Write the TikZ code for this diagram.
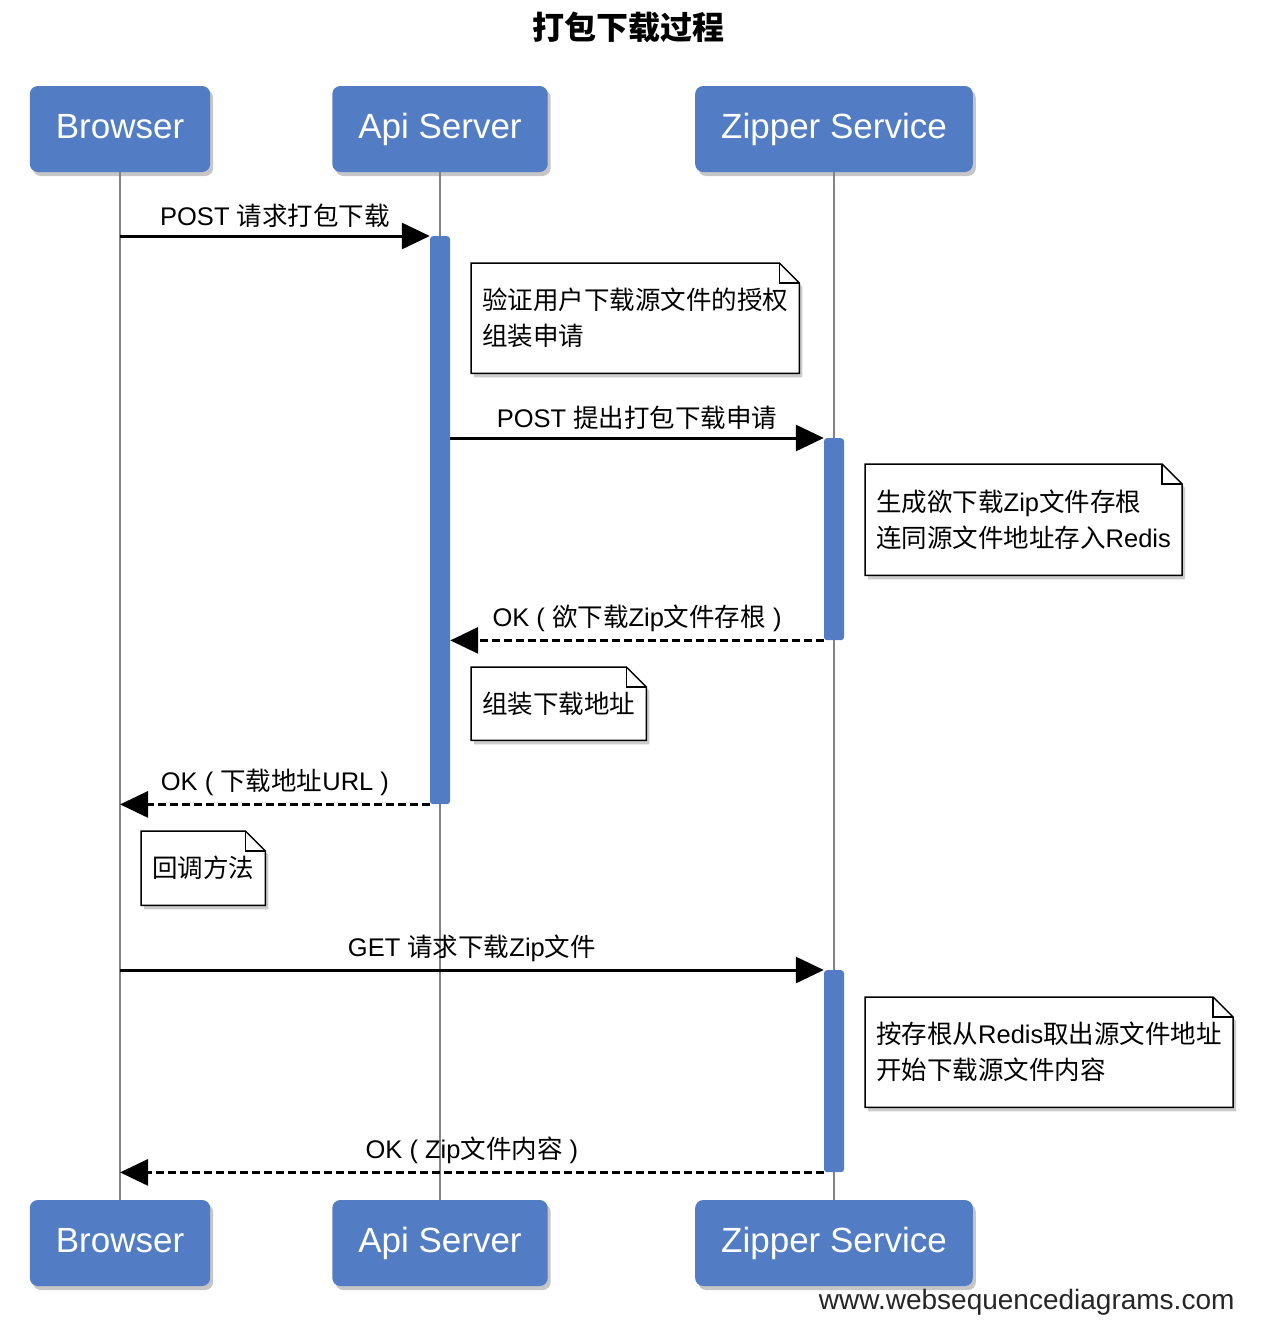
\documentclass[tikz,border=0pt]{standalone}
\usepackage{fontspec}
\setmainfont{Liberation Sans}
\newfontfamily\zh{Noto Sans CJK SC}
\usetikzlibrary{arrows.meta,shadows,backgrounds}
\definecolor{wsdblue}{RGB}{82,124,196}
\definecolor{lifegray}{RGB}{130,130,130}
\tikzset{
  actor/.style={fill=wsdblue, text=white, rounded corners=8pt, minimum height=86pt, inner xsep=26pt,
    text height=25pt, text depth=7pt, font=\fontsize{35}{40}\selectfont,
    drop shadow={shadow xshift=3pt, shadow yshift=-4pt, opacity=0.45}},
  lifeline/.style={draw=lifegray, line width=2pt},
  bar/.style={fill=wsdblue, minimum width=20pt, inner sep=0pt, rounded corners=3pt},
  msg/.style={line width=3pt, -{Triangle[length=28pt,width=26pt]}},
  reply/.style={msg, dash pattern=on 8pt off 4pt},
  msglabel/.style={above=7pt, inner sep=0pt, font=\fontsize{25.5}{30}\selectfont},
  note/.style={anchor=north west, align=left, inner xsep=11pt, font=\fontsize{25.5}{36}\selectfont},
  notebox/.style={draw, line width=1.5pt, fill=white, drop shadow={shadow xshift=3pt, shadow yshift=-4pt, opacity=0.4}},
  notefold/.style={draw, line width=1.5pt}
}

\begin{document}
\begin{tikzpicture}[x=1pt, y=-1pt]
    \useasboundingbox (0,0) rectangle (1264,1322);
    \node[font=\zh\bfseries\fontsize{32}{38}\selectfont] (title) at (628,27) {打包下载过程};

    \foreach \name/\x/\txt in {browser/120/Browser, api/440/Api Server, zipper/834/Zipper Service} {
        \node[actor] (\name) at (\x,129) {\txt};
        \node[actor] (\name2) at (\x,1243) {\txt};
        \draw[lifeline] (\name.south) -- (\name2.north);
    }

    \node[bar, minimum height=568pt, anchor=north] (apibar) at (440,236) {};
    \node[bar, minimum height=202pt, anchor=north] (zipbar1) at (834,438) {};
    \node[bar, minimum height=202pt, anchor=north] (zipbar2) at (834,970) {};

    \node[note, minimum height=110pt] (note1) at (471,263) {{\zh 验证用户下载源文件的授权}\\{\zh 组装申请}};
    \node[note, minimum height=111pt] (note2) at (865,464) {{\zh 生成欲下载}Zip{\zh 文件存根}\\{\zh 连同源文件地址存入}Redis};
    \node[note, minimum height=73pt] (note3) at (471,667) {{\zh 组装下载地址}};
    \node[note, minimum height=74pt] (note4) at (141,831) {{\zh 回调方法}};
    \node[note, minimum height=110pt] (note5) at (865,997) {{\zh 按存根从}Redis{\zh 取出源文件地址}\\{\zh 开始下载源文件内容}};
    \foreach \n in {note1,note2,note3,note4,note5} {
        \begin{scope}[on background layer]
            \path[notebox] (\n.north west) -- ([xshift=-20pt]\n.north east) -- ([yshift=-20pt]\n.north east)
                -- (\n.south east) -- (\n.south west) -- cycle;
            \draw[notefold] ([xshift=-20pt]\n.north east) |- ([yshift=-20pt]\n.north east);
        \end{scope}
    }

    \draw[msg] (browser |- apibar.north) -- node[msglabel] (m1) {POST {\zh 请求打包下载}} (apibar.north west);
    \draw[msg] (apibar.east |- zipbar1.north) -- node[msglabel] (m2) {POST {\zh 提出打包下载申请}} (zipbar1.north west);
    \draw[reply] (zipbar1.south west) -- node[msglabel] (m3) {OK ( {\zh 欲下载}Zip{\zh 文件存根} )} (apibar.east |- zipbar1.south);
    \draw[reply] (apibar.south west) -- node[msglabel] (m4) {OK ( {\zh 下载地址}URL )} (browser |- apibar.south);
    \draw[msg] (browser |- zipbar2.north) -- node[msglabel] (m5) {GET {\zh 请求下载}Zip{\zh 文件}} (zipbar2.north west);
    \draw[reply] (zipbar2.south west) -- node[msglabel] (m6) {OK ( Zip{\zh 文件内容} )} (browser |- zipbar2.south);

    \node[anchor=east, text=black!85, font=\fontsize{28}{32}\selectfont] (credit) at (1238,1302) {www.websequencediagrams.com};
\end{tikzpicture}
\end{document}
